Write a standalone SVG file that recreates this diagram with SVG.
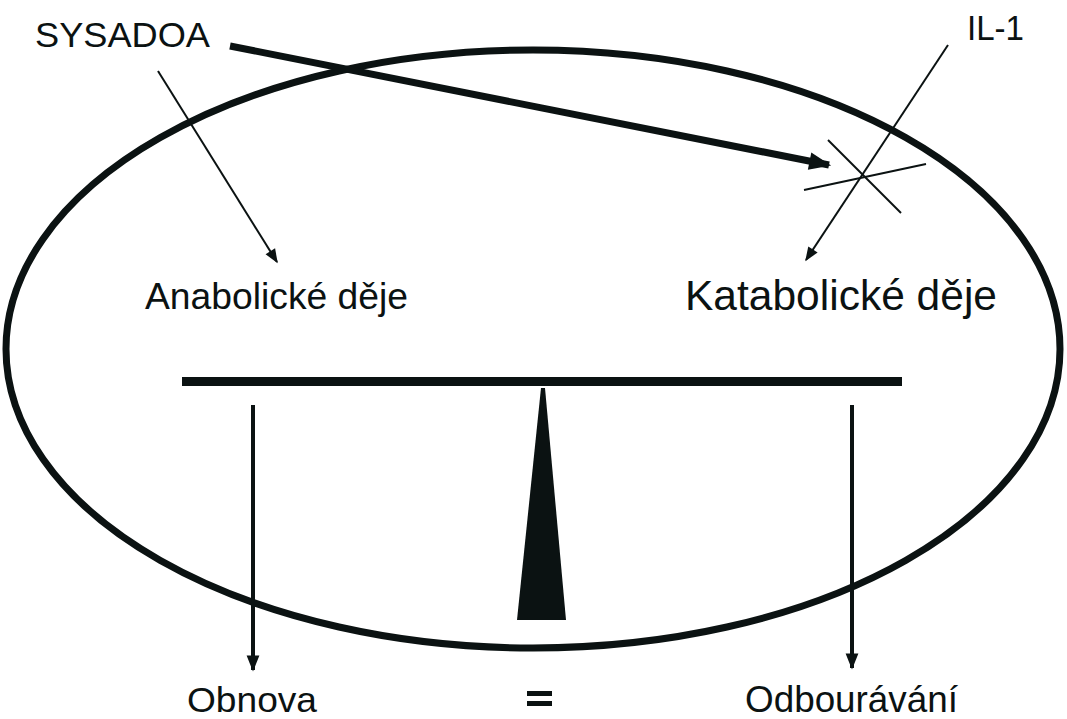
<svg xmlns="http://www.w3.org/2000/svg" width="1067" height="719" viewBox="0 0 1067 719">
<defs>
<style>
text{font-family:"Liberation Sans",Arial,sans-serif;fill:#0b1212}
.thin{stroke:#0b1212;stroke-width:2;fill:none}
.vert{stroke:#0b1212;stroke-width:4;fill:none}
</style>
<marker id="ahs" viewBox="0 0 10 10" refX="9" refY="5" markerWidth="18" markerHeight="14" markerUnits="userSpaceOnUse" orient="auto"><path d="M0,1 L10,5 L0,9 z" fill="#0b1212"/></marker>
<marker id="ahv" viewBox="0 0 10 10" refX="9" refY="5" markerWidth="22" markerHeight="16" markerUnits="userSpaceOnUse" orient="auto"><path d="M0,1 L10,5 L0,9 z" fill="#0b1212"/></marker>
<marker id="ahb" viewBox="0 0 10 10" refX="9" refY="5" markerWidth="26" markerHeight="22" markerUnits="userSpaceOnUse" orient="auto"><path d="M0,1 L10,5 L0,9 z" fill="#0b1212"/></marker>
</defs>
<g id="cell"><ellipse cx="533" cy="349" rx="527" ry="299" stroke="#0b1212" stroke-width="7" fill="none"/></g>
<g id="balance">
<rect x="182" y="377" width="720" height="9" fill="#0b1212"/>
<polygon points="541,388 545,388 566,620 517,620" fill="#0b1212"/>
</g>
<g id="sysadoa"><text x="35" y="47" font-size="35" textLength="175" lengthAdjust="spacingAndGlyphs">SYSADOA</text></g>
<g id="il1"><text x="967" y="40" font-size="35" textLength="57" lengthAdjust="spacingAndGlyphs">IL-1</text></g>
<g id="anabolic"><text x="145" y="309" font-size="37" textLength="263" lengthAdjust="spacingAndGlyphs">Anabolické děje</text></g>
<g id="catabolic"><text x="685" y="310" font-size="43" textLength="312" lengthAdjust="spacingAndGlyphs">Katabolické děje</text></g>
<g id="obnova"><text x="187" y="712" font-size="35" textLength="130" lengthAdjust="spacingAndGlyphs">Obnova</text></g>
<g id="equals"><rect x="527" y="691" width="25" height="5" fill="#0b1212"/><rect x="527" y="701" width="25" height="5" fill="#0b1212"/></g>
<g id="odbourani"><text x="745" y="712" font-size="36" textLength="213" lengthAdjust="spacingAndGlyphs">Odbourávání</text></g>
<g id="block">
<line x1="828" y1="140" x2="901" y2="213" class="thin"/>
<line x1="804" y1="190" x2="926" y2="164" class="thin"/>
</g>
<g id="connectors">
<path d="M230,46 L829,165" stroke="#0b1212" stroke-width="7" fill="none" marker-end="url(#ahb)"/>
<path d="M158,71 L277,262" class="thin" marker-end="url(#ahs)"/>
<path d="M948,45 L806,260" class="thin" marker-end="url(#ahs)"/>
<path d="M253,405 L253,670" class="vert" marker-end="url(#ahv)"/>
<path d="M852,405 L852,668" class="vert" marker-end="url(#ahv)"/>
</g>
</svg>
